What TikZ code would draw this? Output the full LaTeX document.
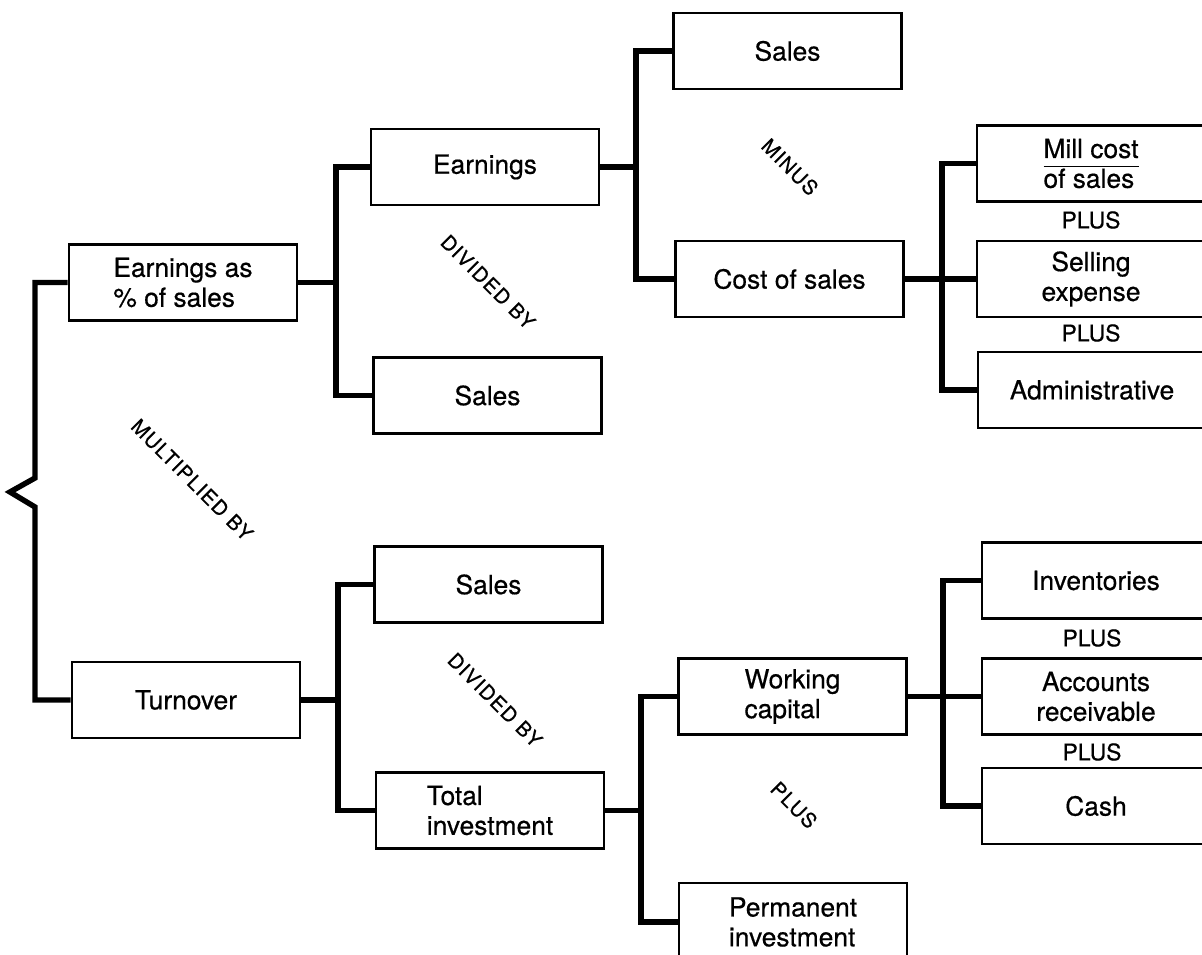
\documentclass[tikz,border=0pt]{standalone}
\usepackage{fontspec}
\setmainfont{TeX Gyre Heros}[FakeBold=0.5]
\newfontfamily\trackedfont{TeX Gyre Heros}[LetterSpace=6, FakeBold=0.6]
\newcommand\lblfont{\fontsize{15}{17}\selectfont}
\begin{document}
\begin{tikzpicture}[x=0.02cm, y=-0.02cm,
  box/.style={draw, line width=1.5pt, minimum width=4.56cm, minimum height=1.52cm,
              inner sep=2pt, font=\lblfont, align=center},
  conn/.style={line width=3.1pt},
  oplabel/.style={font=\trackedfont\fontsize{11.5}{13}\selectfont, rotate=-45, inner sep=0pt},
  pluslabel/.style={font=\fontsize{13}{15}\selectfont, inner sep=0pt}]
\useasboundingbox (0,0) rectangle (1202,955);
\clip (0,0) rectangle (1202,955);

% first level
\node[box, align=left] (EarnPct) at (183,282.5) {Earnings as\\\% of sales};
\node[box] (Turnover) at (186,700) {Turnover};

% second level
\node[box] (Earnings) at (485,167) {Earnings};
\node[box] (SalesA) at (487.5,395.5) {Sales};
\node[box] (SalesB) at (488.5,584.5) {Sales};
\node[box, align=left] (TotalInv) at (490,810.5) {Total\\investment};

% third level
\node[box] (SalesT) at (787.5,51) {Sales};
\node[box] (CostS) at (789.5,279) {Cost of sales};
\node[box, align=left] (WorkCap) at (792.5,696.5) {Working\\capital};
\node[box, align=left, minimum height=1.56cm] (Perm) at (793,922) {Permanent\\investment};

% fourth level
\node[box, align=left] (Mill) at (1091,163.5) {\underline{Mill cost\vphantom{g}}\\of sales};
\node[box] (Selling) at (1091,279) {Selling\\expense};
\node[box] (Admin) at (1092,390) {Administrative};
\node[box] (Invent) at (1096,580.5) {Inventories};
\node[box] (Accounts) at (1096,696.5) {Accounts\\receivable};
\node[box] (Cash) at (1096,806) {Cash};

% operators between boxes
\node[pluslabel] (plusA) at (1091,220) {PLUS};
\node[pluslabel] (plusB) at (1091,333) {PLUS};
\node[pluslabel] (plusC) at (1092,638) {PLUS};
\node[pluslabel] (plusD) at (1092,752) {PLUS};
\node[oplabel] (opMult) at (192,480) {MULTIPLIED BY};
\node[oplabel] (opDivA) at (488,282) {DIVIDED BY};
\node[oplabel] (opDivB) at (495,700) {DIVIDED BY};
\node[oplabel] (opMinus) at (790,167) {MINUS};
\node[oplabel] (opPlus) at (794,805) {PLUS};

% bracket joining the two factors
\coordinate (braceTop) at (35,478);
\coordinate (braceTip) at (10,492);
\coordinate (braceBot) at (35,507);
\draw[conn] (EarnPct.west) -| (braceTop) -- (braceTip) -- (braceBot) |- (Turnover.west);

% branch buses
\coordinate (busA) at (336,282.5);
\draw[conn] (EarnPct.east) -- (busA);
\draw[conn] (Earnings.west) -| (busA) |- (SalesA.west);

\coordinate (busB) at (338,700);
\draw[conn] (Turnover.east) -- (busB);
\draw[conn] (SalesB.west) -| (busB) |- (TotalInv.west);

\coordinate (busC) at (636,167);
\draw[conn] (Earnings.east) -- (busC);
\draw[conn] (SalesT.west) -| (busC) |- (CostS.west);

\coordinate (busD) at (641,810.5);
\draw[conn] (TotalInv.east) -- (busD);
\draw[conn] (WorkCap.west) -| (busD) |- (Perm.west);

\coordinate (busE) at (942,279);
\draw[conn] (CostS.east) -- (Selling.west);
\draw[conn] (Mill.west) -| (busE) |- (Admin.west);

\coordinate (busF) at (943,696.5);
\draw[conn] (WorkCap.east) -- (Accounts.west);
\draw[conn] (Invent.west) -| (busF) |- (Cash.west);
\end{tikzpicture}
\end{document}
